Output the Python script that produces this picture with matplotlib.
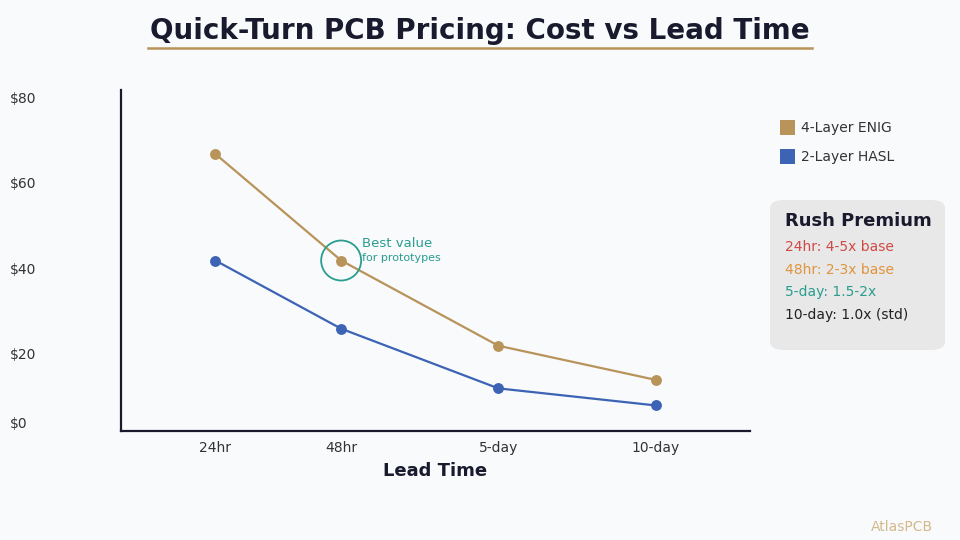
import matplotlib

matplotlib.use("Agg")

import matplotlib.pyplot as plt
import matplotlib.transforms as mtransforms
from matplotlib.lines import Line2D
from matplotlib.patches import Circle, FancyBboxPatch, Patch

LEAD_TIMES = ["24hr", "48hr", "5-day", "10-day"]
ENIG_4_LAYER = [65, 40, 20, 12]
HASL_2_LAYER = [40, 24, 10, 6]
Y_TICKS = [0, 20, 40, 60, 80]
Y_TICK_LABELS = ["$0", "$20", "$40", "$60", "$80"]
RUSH_LINES = ["24hr: 4-5x base", "48hr: 2-3x base", "5-day: 1.5-2x", "10-day: 1.0x (std)"]

# layout: the source chart puts 24hr a bit closer to 48hr than the even spacing
X_POS = [0.2, 1, 2, 3]

BG = "#f8fafc"
DARK = "#1a1a2e"
GOLD = "#b8935a"
BLUE = "#3d63b5"
TEAL = "#2a9d8f"
RUSH_COLORS = ["#d04a45", "#e0943c", "#2a9d8f", "#222222"]


def main():
    fig = plt.figure(figsize=(9.6, 5.4), dpi=100, facecolor=BG)
    ax = fig.add_axes([121 / 960, 1 - 431 / 540, 629 / 960, 341 / 540], facecolor=BG)

    ax.plot(X_POS, ENIG_4_LAYER, color=GOLD, lw=1.6, marker="o", markersize=6.8, zorder=3)
    ax.plot(X_POS, HASL_2_LAYER, color=BLUE, lw=1.6, marker="o", markersize=6.8, zorder=3)

    ax.set_xlim(-0.4, 3.6)
    ax.set_ylim(0, 80)
    ax.set_xticks(X_POS)
    ax.set_xticklabels(LEAD_TIMES)
    ax.tick_params(axis="x", length=0, pad=7, labelsize=10, labelcolor="#333333")
    ax.set_yticks([])
    for side in ("top", "right"):
        ax.spines[side].set_visible(False)
    for side in ("left", "bottom"):
        ax.spines[side].set_color(DARK)
        ax.spines[side].set_linewidth(1.6)

    ax.set_xlabel("Lead Time", fontsize=13, fontweight="bold", color=DARK, labelpad=5)

    # y labels sit a little below their gridline, the $0 one is lifted above the axis
    label_x = mtransforms.blended_transform_factory(fig.transFigure, ax.transData)
    for value, text in zip(Y_TICKS, Y_TICK_LABELS):
        shift = 7 if value == 0 else -9
        offset = mtransforms.ScaledTranslation(0, shift / 100, fig.dpi_scale_trans)
        ax.text(10 / 960, value, text, transform=label_x + offset, ha="left", va="center",
                fontsize=10, color="#333333")

    # best value callout on the 48hr ENIG point
    circle_center = (X_POS[1], ENIG_4_LAYER[1])
    ax.add_artist(Circle((0, 0), 20, transform=mtransforms.Affine2D().translate(
        *ax.transData.transform(circle_center)), fill=False, edgecolor=TEAL, lw=1.3, zorder=4))
    ax.annotate("Best value", circle_center, xytext=(15, 12), textcoords="offset points",
                fontsize=9.5, color=TEAL, ha="left", va="center")
    ax.annotate("for prototypes", circle_center, xytext=(15, 2), textcoords="offset points",
                fontsize=8, color=TEAL, ha="left", va="center")

    fig.text(0.5, 1 - 31 / 540, "Quick-Turn PCB Pricing: Cost vs Lead Time", ha="center",
             va="center", fontsize=20, fontweight="bold", color=DARK)
    fig.add_artist(Line2D([148 / 960, 812 / 960], [1 - 48 / 540, 1 - 48 / 540], color=GOLD, lw=1.8))

    handles = [Patch(facecolor=GOLD), Patch(facecolor=BLUE)]
    fig.legend(handles, ["4-Layer ENIG", "2-Layer HASL"], loc="upper left",
               bbox_to_anchor=(767 / 960, 1 - 107 / 540), frameon=False, fontsize=10,
               handlelength=1.15, handleheight=1.3, handletextpad=0.4, labelspacing=1.0,
               labelcolor="#333333")

    box = FancyBboxPatch((770 / 960, 1 - 350 / 540), 175 / 960, 150 / 540,
                         boxstyle="round,pad=0,rounding_size=0.015", transform=fig.transFigure,
                         facecolor="#e8e8e8", edgecolor="none")
    fig.add_artist(box)
    fig.text(785 / 960, 1 - 221 / 540, "Rush Premium", fontsize=13, fontweight="bold",
             color=DARK, va="center", ha="left")
    for i, (line, color) in enumerate(zip(RUSH_LINES, RUSH_COLORS)):
        fig.text(785 / 960, 1 - (247.5 + 22.4 * i) / 540, line, fontsize=10, color=color,
                 va="center", ha="left")

    fig.text(933 / 960, 1 - 527 / 540, "AtlasPCB", fontsize=10, color="#d4b98a",
             ha="right", va="center")

    fig.savefig("out.png", dpi=100, facecolor=BG)
    plt.close(fig)


if __name__ == "__main__":
    main()
